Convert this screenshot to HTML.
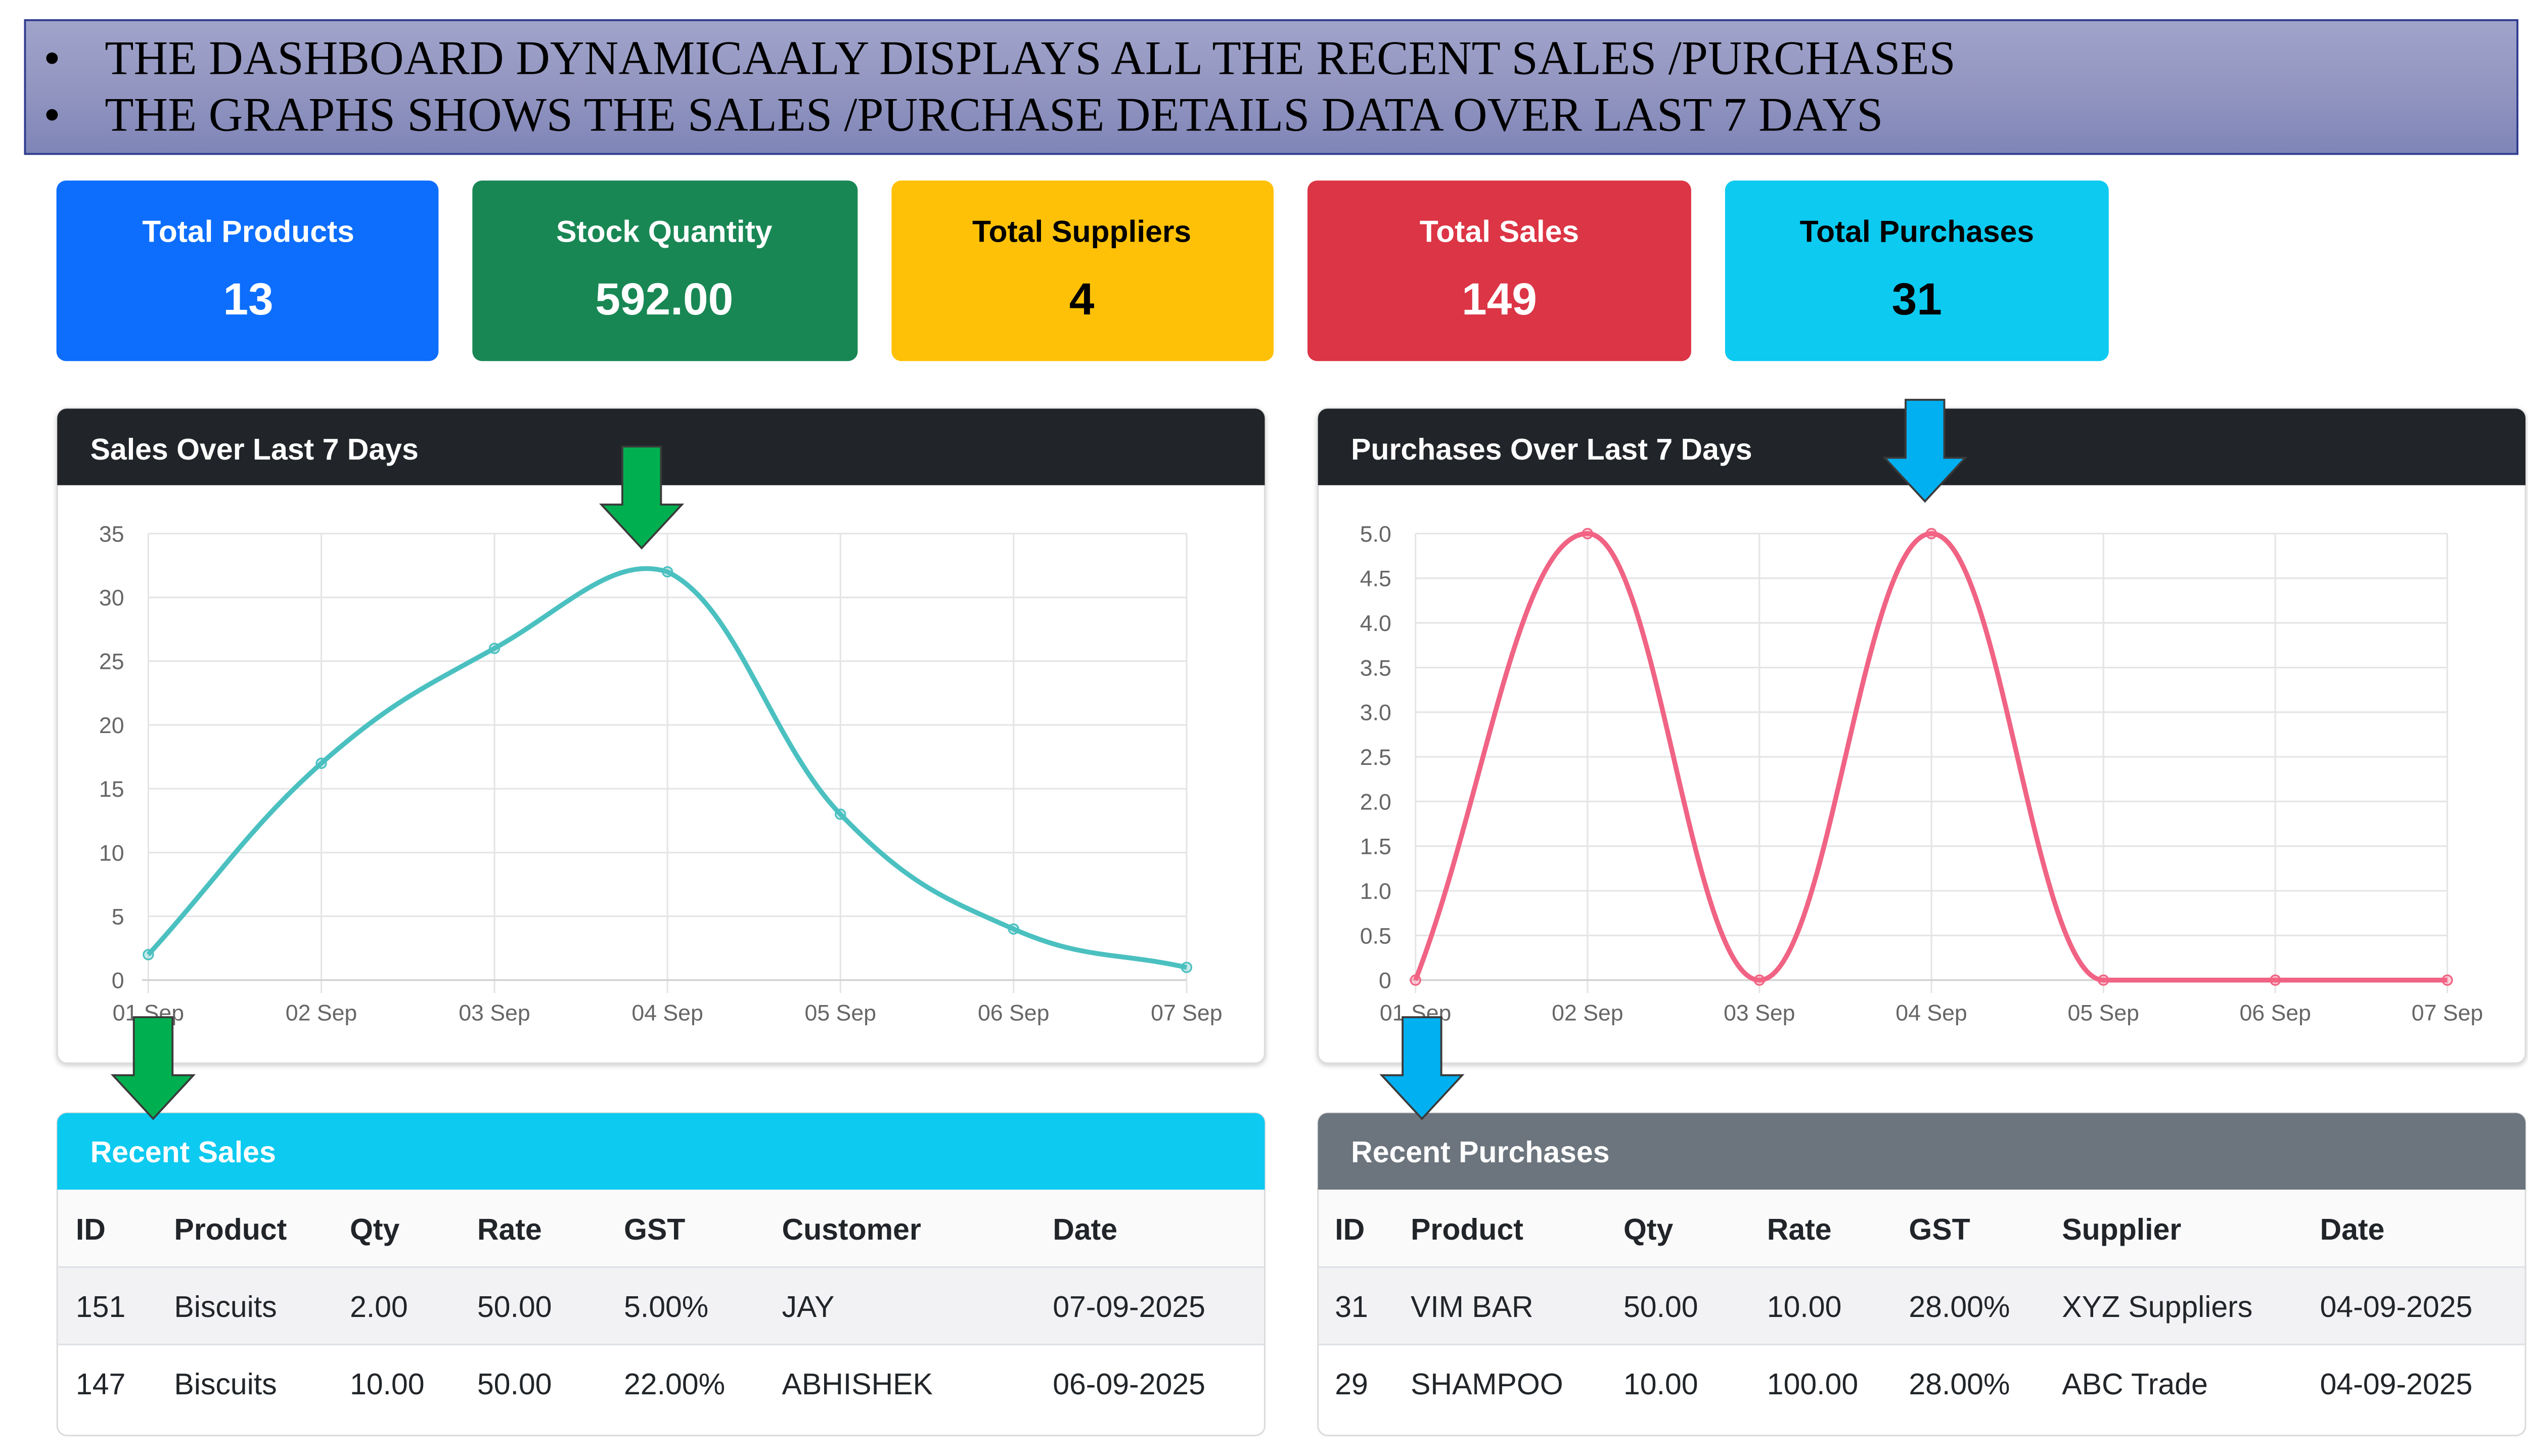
<!DOCTYPE html>
<html><head><meta charset="utf-8"><style>html,body{margin:0;padding:0;background:#fff;overflow:hidden}svg{display:block}</style></head>
<body>
<svg width="5120" height="2880" viewBox="0 0 1605.6 903.2" preserveAspectRatio="xMinYMin meet" xmlns="http://www.w3.org/2000/svg" font-family="'Liberation Sans', sans-serif">
<defs>
<linearGradient id="bg" x1="0" y1="0" x2="0" y2="1"><stop offset="0" stop-color="#a0a4cb"/><stop offset="0.5" stop-color="#9396c0"/><stop offset="1" stop-color="#7f85b8"/></linearGradient>
<filter id="sh" x="-5%" y="-5%" width="110%" height="115%"><feDropShadow dx="0" dy="1" stdDeviation="1.5" flood-opacity="0.2"/></filter>
</defs>
<rect width="1606" height="904" fill="#fff"/>
<rect x="15.5" y="12.5" width="1546" height="83" fill="url(#bg)" stroke="#2f3b8f" stroke-width="1.2"/>
<g font-family="'Liberation Serif', serif" font-size="30" fill="#000">
<text x="27" y="46">•</text><text x="65" y="46" textLength="1148" lengthAdjust="spacingAndGlyphs">THE DASHBOARD DYNAMICAALY DISPLAYS ALL THE RECENT SALES /PURCHASES</text>
<text x="27" y="81">•</text><text x="65" y="81" textLength="1103" lengthAdjust="spacingAndGlyphs">THE GRAPHS SHOWS THE SALES /PURCHASE DETAILS DATA OVER LAST 7 DAYS</text>
</g>
<g text-anchor="middle" font-weight="bold">
<rect x="35" y="112" width="237" height="112" rx="6" fill="#0d6efd"/>
<text x="154" y="150" font-size="19" fill="#fff">Total Products</text><text x="154" y="195" font-size="28" fill="#fff">13</text>
<rect x="293" y="112" width="239" height="112" rx="6" fill="#198754"/>
<text x="412" y="150" font-size="19" fill="#fff">Stock Quantity</text><text x="412" y="195" font-size="28" fill="#fff">592.00</text>
<rect x="553" y="112" width="237" height="112" rx="6" fill="#ffc107"/>
<text x="671" y="150" font-size="19" fill="#000">Total Suppliers</text><text x="671" y="195" font-size="28" fill="#000">4</text>
<rect x="811" y="112" width="238" height="112" rx="6" fill="#dc3545"/>
<text x="930" y="150" font-size="19" fill="#fff">Total Sales</text><text x="930" y="195" font-size="28" fill="#fff">149</text>
<rect x="1070" y="112" width="238" height="112" rx="6" fill="#0dcaf0"/>
<text x="1189" y="150" font-size="19" fill="#000">Total Purchases</text><text x="1189" y="195" font-size="28" fill="#000">31</text>
</g>
<rect x="35.5" y="253.5" width="749" height="406" rx="6" fill="#fff" stroke="#dcdcdc" filter="url(#sh)"/>
<path d="M35.5,301 V259.5 a6,6 0 0 1 6,-6 H778.5 a6,6 0 0 1 6,6 V301 Z" fill="#212529"/>
<text x="56" y="285" font-size="18.5" font-weight="bold" fill="#fff">Sales Over Last 7 Days</text>
<rect x="817.5" y="253.5" width="749" height="406" rx="6" fill="#fff" stroke="#dcdcdc" filter="url(#sh)"/>
<path d="M817.5,301 V259.5 a6,6 0 0 1 6,-6 H1560.5 a6,6 0 0 1 6,6 V301 Z" fill="#212529"/>
<text x="838" y="285" font-size="18.5" font-weight="bold" fill="#fff">Purchases Over Last 7 Days</text>
<g stroke="#e5e5e5" stroke-width="1">
<line x1="92" y1="331" x2="736" y2="331"/><line x1="92" y1="370.6" x2="736" y2="370.6"/><line x1="92" y1="410.1" x2="736" y2="410.1"/><line x1="92" y1="449.7" x2="736" y2="449.7"/><line x1="92" y1="489.3" x2="736" y2="489.3"/><line x1="92" y1="528.9" x2="736" y2="528.9"/><line x1="92" y1="568.4" x2="736" y2="568.4"/>
<line x1="92" y1="331" x2="92" y2="616"/><line x1="199.3" y1="331" x2="199.3" y2="616"/><line x1="306.7" y1="331" x2="306.7" y2="616"/><line x1="414" y1="331" x2="414" y2="616"/><line x1="521.3" y1="331" x2="521.3" y2="616"/><line x1="628.7" y1="331" x2="628.7" y2="616"/><line x1="736" y1="331" x2="736" y2="616"/>
</g>
<line x1="88" y1="608" x2="736" y2="608" stroke="#cfcfcf"/>
<g font-size="14" fill="#666" text-anchor="end">
<text x="77" y="336">35</text><text x="77" y="375.6">30</text><text x="77" y="415">25</text><text x="77" y="454.7">20</text><text x="77" y="494.3">15</text><text x="77" y="534">10</text><text x="77" y="573.4">5</text><text x="77" y="613">0</text>
</g>
<g font-size="14" fill="#666" text-anchor="middle">
<text x="92" y="633">01 Sep</text><text x="199.3" y="633">02 Sep</text><text x="306.7" y="633">03 Sep</text><text x="414" y="633">04 Sep</text><text x="521.3" y="633">05 Sep</text><text x="628.7" y="633">06 Sep</text><text x="736" y="633">07 Sep</text>
</g>
<path d="M92,592.2 C134.9,544.7 156.4,511.5 199.3,473.5 C242.2,435.5 263.8,426 306.7,402.2 C349.6,378.4 380,344 414,354.7 C456.9,375.3 478.4,460.8 521.3,505.1 C564.2,549.4 585.8,557.3 628.7,576.3 C671.6,595.3 693.1,590.6 736,600.1" fill="none" stroke="#4bc0c0" stroke-width="3"/>
<g fill="rgba(75,192,192,0.3)" stroke="#4bc0c0" stroke-width="1"><circle cx="92" cy="592.2" r="3"/><circle cx="199.3" cy="473.5" r="3"/><circle cx="306.7" cy="402.2" r="3"/><circle cx="414" cy="354.7" r="3"/><circle cx="521.3" cy="505.1" r="3"/><circle cx="628.7" cy="576.3" r="3"/><circle cx="736" cy="600.1" r="3"/></g>
<g stroke="#e5e5e5" stroke-width="1">
<line x1="878" y1="331" x2="1518" y2="331"/><line x1="878" y1="358.7" x2="1518" y2="358.7"/><line x1="878" y1="386.4" x2="1518" y2="386.4"/><line x1="878" y1="414.1" x2="1518" y2="414.1"/><line x1="878" y1="441.8" x2="1518" y2="441.8"/><line x1="878" y1="469.5" x2="1518" y2="469.5"/><line x1="878" y1="497.2" x2="1518" y2="497.2"/><line x1="878" y1="524.9" x2="1518" y2="524.9"/><line x1="878" y1="552.6" x2="1518" y2="552.6"/><line x1="878" y1="580.3" x2="1518" y2="580.3"/>
<line x1="878" y1="331" x2="878" y2="616"/><line x1="984.7" y1="331" x2="984.7" y2="616"/><line x1="1091.3" y1="331" x2="1091.3" y2="616"/><line x1="1198" y1="331" x2="1198" y2="616"/><line x1="1304.7" y1="331" x2="1304.7" y2="616"/><line x1="1411.3" y1="331" x2="1411.3" y2="616"/><line x1="1518" y1="331" x2="1518" y2="616"/>
</g>
<line x1="874" y1="608" x2="1518" y2="608" stroke="#cfcfcf"/>
<g font-size="14" fill="#666" text-anchor="end">
<text x="863" y="336">5.0</text><text x="863" y="363.7">4.5</text><text x="863" y="391.4">4.0</text><text x="863" y="419.1">3.5</text><text x="863" y="446.8">3.0</text><text x="863" y="474.5">2.5</text><text x="863" y="502.2">2.0</text><text x="863" y="529.9">1.5</text><text x="863" y="557.6">1.0</text><text x="863" y="585.3">0.5</text><text x="863" y="613">0</text>
</g>
<g font-size="14" fill="#666" text-anchor="middle">
<text x="878" y="633">01 Sep</text><text x="984.7" y="633">02 Sep</text><text x="1091.3" y="633">03 Sep</text><text x="1198" y="633">04 Sep</text><text x="1304.7" y="633">05 Sep</text><text x="1411.3" y="633">06 Sep</text><text x="1518" y="633">07 Sep</text>
</g>
<path d="M878,608 C920.7,497.2 942,331 984.7,331 C1027.3,331 1048.7,608 1091.3,608 C1134,608 1155.3,331 1198,331 C1240.7,331 1262,608 1304.7,608 L1518,608" fill="none" stroke="#f06384" stroke-width="3"/>
<g fill="rgba(255,99,132,0.3)" stroke="#f06384" stroke-width="1"><circle cx="878" cy="608" r="3"/><circle cx="984.7" cy="331" r="3"/><circle cx="1091.3" cy="608" r="3"/><circle cx="1198" cy="331" r="3"/><circle cx="1304.7" cy="608" r="3"/><circle cx="1411.3" cy="608" r="3"/><circle cx="1518" cy="608" r="3"/></g>
<rect x="35.5" y="690.5" width="749" height="200" rx="6" fill="#fff" stroke="#dcdcdc"/>
<path d="M35.5,738 V696.5 a6,6 0 0 1 6,-6 H778.5 a6,6 0 0 1 6,6 V738 Z" fill="#0dcaf0"/>
<text x="56" y="721" font-size="18.5" font-weight="bold" fill="#fff">Recent Sales</text>
<rect x="36" y="738" width="748" height="48" fill="#fafafb"/>
<rect x="36" y="786" width="748" height="48" fill="#f2f2f4"/>
<g stroke="#dee2e6"><line x1="36" y1="786" x2="784" y2="786"/><line x1="36" y1="834" x2="784" y2="834"/></g>
<g font-size="18.5" fill="#212529">
<g font-weight="bold"><text x="47" y="769">ID</text><text x="108" y="769">Product</text><text x="217" y="769">Qty</text><text x="296" y="769">Rate</text><text x="387" y="769">GST</text><text x="485" y="769">Customer</text><text x="653" y="769">Date</text></g>
<text x="47" y="817">151</text><text x="108" y="817">Biscuits</text><text x="217" y="817">2.00</text><text x="296" y="817">50.00</text><text x="387" y="817">5.00%</text><text x="485" y="817">JAY</text><text x="653" y="817">07-09-2025</text>
<text x="47" y="865">147</text><text x="108" y="865">Biscuits</text><text x="217" y="865">10.00</text><text x="296" y="865">50.00</text><text x="387" y="865">22.00%</text><text x="485" y="865">ABHISHEK</text><text x="653" y="865">06-09-2025</text>
</g>
<rect x="817.5" y="690.5" width="749" height="200" rx="6" fill="#fff" stroke="#dcdcdc"/>
<path d="M817.5,738 V696.5 a6,6 0 0 1 6,-6 H1560.5 a6,6 0 0 1 6,6 V738 Z" fill="#6c757d"/>
<text x="838" y="721" font-size="18.5" font-weight="bold" fill="#fff">Recent Purchases</text>
<rect x="818" y="738" width="748" height="48" fill="#fafafb"/>
<rect x="818" y="786" width="748" height="48" fill="#f2f2f4"/>
<g stroke="#dee2e6"><line x1="818" y1="786" x2="1566" y2="786"/><line x1="818" y1="834" x2="1566" y2="834"/></g>
<g font-size="18.5" fill="#212529">
<g font-weight="bold"><text x="828" y="769">ID</text><text x="875" y="769">Product</text><text x="1007" y="769">Qty</text><text x="1096" y="769">Rate</text><text x="1184" y="769">GST</text><text x="1279" y="769">Supplier</text><text x="1439" y="769">Date</text></g>
<text x="828" y="817">31</text><text x="875" y="817">VIM BAR</text><text x="1007" y="817">50.00</text><text x="1096" y="817">10.00</text><text x="1184" y="817">28.00%</text><text x="1279" y="817">XYZ Suppliers</text><text x="1439" y="817">04-09-2025</text>
<text x="828" y="865">29</text><text x="875" y="865">SHAMPOO</text><text x="1007" y="865">10.00</text><text x="1096" y="865">100.00</text><text x="1184" y="865">28.00%</text><text x="1279" y="865">ABC Trade</text><text x="1439" y="865">04-09-2025</text>
</g>
<g stroke="#3a3a3a" stroke-width="1.2">
<path d="M386,277 H410 V313 H423 L398,340 L373,313 H386 Z" fill="#00b050"/>
<path d="M1182,248 H1206 V284 H1219 L1194,311 L1169,284 H1182 Z" fill="#00b0f0"/>
<path d="M83,631 H107 V667 H120 L95,694 L70,667 H83 Z" fill="#00b050"/>
<path d="M870,631 H894 V667 H907 L882,694 L857,667 H870 Z" fill="#00b0f0"/>
</g>
</svg>
</body></html>
